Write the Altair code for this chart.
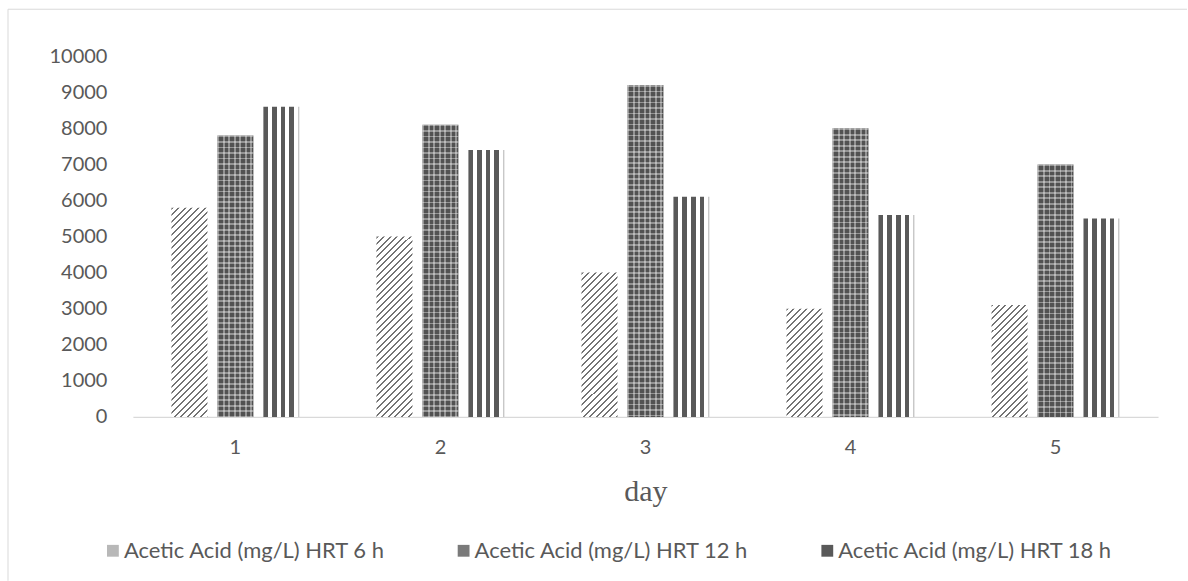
import altair as alt
import pandas as pd

# ---- data ----
days = ["1", "2", "3", "4", "5"]
series = [
    "Acetic Acid (mg/L) HRT 6 h",
    "Acetic Acid (mg/L) HRT 12 h",
    "Acetic Acid (mg/L) HRT 18 h",
]
hrt6 = [5800, 5000, 4000, 3000, 3100]
hrt12 = [7800, 8100, 9200, 8000, 7000]
hrt18 = [8600, 7400, 6100, 5600, 5500]
y_ticks = [0, 1000, 2000, 3000, 4000, 5000, 6000, 7000, 8000, 9000, 10000]
x_title = "day"
legend_colors = ["#b8b8b8", "#7a7a7a", "#595959"]

# ---- layout / style ----
W, H = 1026, 361
YMAX = 10000
BAR_W = 36
DARK = "#595959"
FONT = "Lato"

rows = []
for i, d in enumerate(days):
    for s, vals in zip(series, [hrt6, hrt12, hrt18]):
        rows.append({"day": d, "series": s, "value": vals[i]})
df = pd.DataFrame(rows)


def seq_stops(segments, total):
    stops = []
    pos = 0.0
    for length, color in segments:
        end = min(pos + length, total)
        stops.append({"offset": round(pos / total, 6), "color": color})
        stops.append({"offset": round(end / total, 6), "color": color})
        pos = end
        if pos >= total:
            break
    return stops


def repeat_stops(pattern, total):
    segs = []
    pos = 0.0
    k = 0
    while pos < total:
        length, color = pattern[k % len(pattern)]
        segs.append((length, color))
        pos += length
        k += 1
    return seq_stops(segs, total)


x_enc = alt.X(
    "day:N",
    sort=days,
    scale=alt.Scale(domain=days, paddingInner=0.376, paddingOuter=0.188),
    axis=alt.Axis(
        title=x_title,
        labelAngle=0,
        ticks=False,
        domainColor="#d9d9d9",
        domainWidth=1.3,
        labelPadding=21,
        labelFont=FONT,
        labelFontSize=20,
        labelColor=DARK,
        titleFont="Liberation Serif",
        titleFontSize=30,
        titleFontWeight="normal",
        titleColor=DARK,
        titlePadding=19,
    ),
)
xo_enc = alt.XOffset(
    "series:N",
    sort=series,
    scale=alt.Scale(domain=series, paddingInner=0.217, paddingOuter=0),
)
y_enc = alt.Y(
    "value:Q",
    scale=alt.Scale(domain=[0, YMAX], nice=False),
    axis=alt.Axis(
        title=None,
        values=y_ticks,
        format="d",
        grid=False,
        domain=False,
        ticks=False,
        labelPadding=26,
        labelFont=FONT,
        labelFontSize=20,
        labelColor=DARK,
    ),
)

base = alt.Chart(df).encode(x=x_enc, xOffset=xo_enc, y=y_enc)

layers = []

# frame (top and left border of the chart box)
frame_df = pd.DataFrame({"a": [0]})
layers.append(
    alt.Chart(frame_df).mark_rule(color="#d9d9d9", strokeWidth=1).encode(
        x=alt.value(-125), x2=alt.value(1055), y=alt.value(-47)
    )
)
layers.append(
    alt.Chart(frame_df).mark_rule(color="#d9d9d9", strokeWidth=1).encode(
        x=alt.value(-125), y=alt.value(-47), y2=alt.value(525)
    )
)

# legend carrier (invisible marks)
layers.append(
    base.mark_square(opacity=0).encode(
        color=alt.Color(
            "series:N",
            sort=series,
            scale=alt.Scale(domain=series, range=legend_colors),
            legend=alt.Legend(
                title=None,
                orient="none",
                legendX=-31,
                legendY=484,
                direction="horizontal",
                symbolType="square",
                symbolSize=140,
                symbolOpacity=1,
                symbolStrokeWidth=0,
                labelFont=FONT,
                labelFontSize=22,
                labelColor=DARK,
                labelLimit=500,
                labelOffset=0,
                columnPadding=67,
                padding=0,
            ),
        )
    )
)

# 6 h: diagonal hatch, one gradient per bar so the angle stays at 45 degrees
for d, v in zip(days, hrt6):
    h = v / YMAX * H
    w = BAR_W
    k = (w + h) / (w * w + h * h)
    grad = {
        "gradient": "linear",
        "x1": 0, "y1": 0, "x2": round(k * w, 8), "y2": round(k * h, 8),
        "stops": repeat_stops([(2.0, "#747474"), (4.6, "#ffffff")], w + h),
    }
    layers.append(
        base.mark_bar(fill=grad).transform_filter(
            (alt.datum.series == series[0]) & (alt.datum.day == d)
        )
    )

# 12 h: dark checker pattern (dark base + light grid lines)
layers.append(
    base.mark_bar(fill="#525252").transform_filter(alt.datum.series == series[1])
)
vgrad = {
    "gradient": "linear", "x1": 0, "y1": 0, "x2": 1, "y2": 0,
    "stops": repeat_stops([(1.7, "rgba(255,255,255,0.38)"), (3.8, "rgba(255,255,255,0)")], BAR_W),
}
layers.append(
    base.mark_bar(fill=vgrad).transform_filter(alt.datum.series == series[1])
)
for d, v in zip(days, hrt12):
    h = v / YMAX * H
    hgrad = {
        "gradient": "linear", "x1": 0, "y1": 0, "x2": 0, "y2": 1,
        "stops": repeat_stops([(1.7, "rgba(255,255,255,0.38)"), (3.8, "rgba(255,255,255,0)")], h),
    }
    layers.append(
        base.mark_bar(fill=hgrad).transform_filter(
            (alt.datum.series == series[1]) & (alt.datum.day == d)
        )
    )

# 18 h: vertical stripes
sgrad = {
    "gradient": "linear", "x1": 0, "y1": 0, "x2": 1, "y2": 0,
    "stops": seq_stops(
        [(4.7, DARK), (4.0, "#ffffff"), (4.7, DARK), (4.0, "#ffffff"),
         (4.7, DARK), (4.0, "#ffffff"), (4.7, DARK), (3.9, "#ffffff"),
         (1.3, "#c8c8c8")],
        BAR_W,
    ),
}
layers.append(
    base.mark_bar(fill=sgrad).transform_filter(alt.datum.series == series[2])
)

chart = (
    alt.layer(*layers)
    .properties(
        width=W,
        height=H,
        padding={"left": 7, "top": 8, "right": 0, "bottom": 0},
        background="white",
    )
    .configure_view(stroke=None)
)

chart.save("out.html", embed_options={"renderer": "svg", "actions": False})
